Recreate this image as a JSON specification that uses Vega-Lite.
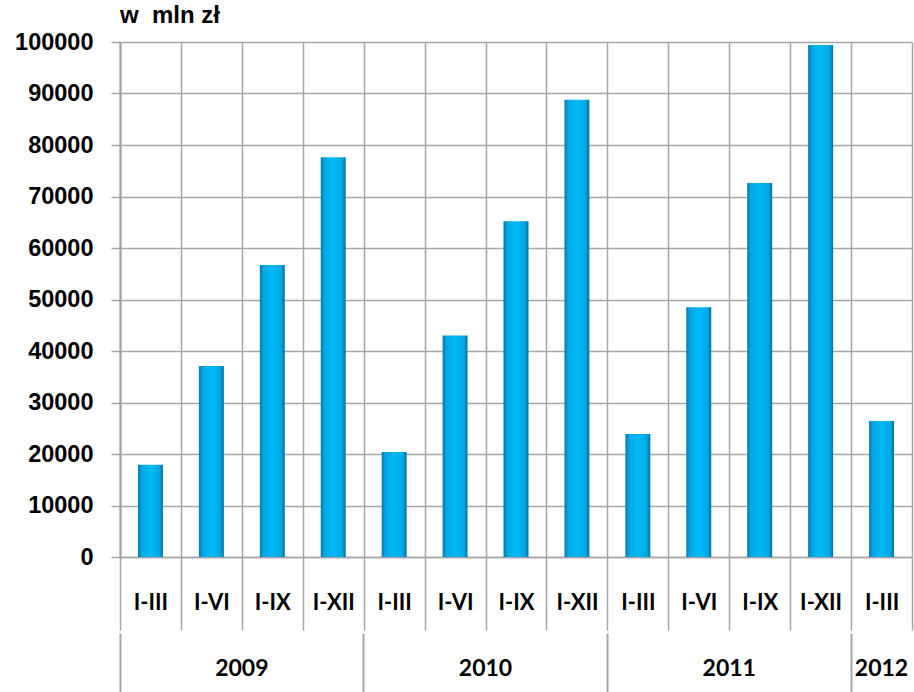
{
  "$schema": "https://vega.github.io/schema/vega-lite/v6.json",
  "autosize": {"type": "none"},
  "padding": {"left": 120, "top": 42, "right": 2, "bottom": 135},
  "width": 792,
  "height": 515,
  "background": "white",
  "config": {"view": {"stroke": null}},
  "title": {
    "text": "w\u00a0 mln zł",
    "anchor": "start",
    "frame": "group",
    "font": "Liberation Sans",
    "fontSize": 24,
    "fontWeight": "bold",
    "color": "#000000",
    "baseline": "alphabetic",
    "offset": 14,
    "dy": 31
  },
  "data": {
    "values": [
      {"id": "2009 I-III", "year": "2009", "quarter": "I-III", "value": 17900},
      {"id": "2009 I-VI", "year": "2009", "quarter": "I-VI", "value": 37100},
      {"id": "2009 I-IX", "year": "2009", "quarter": "I-IX", "value": 56700},
      {"id": "2009 I-XII", "year": "2009", "quarter": "I-XII", "value": 77600},
      {"id": "2010 I-III", "year": "2010", "quarter": "I-III", "value": 20400},
      {"id": "2010 I-VI", "year": "2010", "quarter": "I-VI", "value": 43000},
      {"id": "2010 I-IX", "year": "2010", "quarter": "I-IX", "value": 65200},
      {"id": "2010 I-XII", "year": "2010", "quarter": "I-XII", "value": 88800},
      {"id": "2011 I-III", "year": "2011", "quarter": "I-III", "value": 23900},
      {"id": "2011 I-VI", "year": "2011", "quarter": "I-VI", "value": 48500},
      {"id": "2011 I-IX", "year": "2011", "quarter": "I-IX", "value": 72600},
      {"id": "2011 I-XII", "year": "2011", "quarter": "I-XII", "value": 99400},
      {"id": "2012 I-III", "year": "2012", "quarter": "I-III", "value": 26400}
    ]
  },
  "encoding": {
    "y": {
      "field": "value",
      "type": "quantitative",
      "scale": {"domain": [0, 100000], "nice": false},
      "axis": {
        "title": null,
        "values": [0, 10000, 20000, 30000, 40000, 50000, 60000, 70000, 80000, 90000, 100000],
        "format": "d",
        "grid": true,
        "gridColor": "#a6a6a6",
        "gridWidth": 1.5,
        "domainColor": "#a0a0a0",
        "domainWidth": 2,
        "tickColor": "#a6a6a6",
        "tickWidth": 1.5,
        "tickSize": 9,
        "labelPadding": 18,
        "labelFont": "Liberation Sans",
        "labelFontSize": 23.5,
        "labelFontWeight": "bold",
        "labelColor": "#000000"
      }
    }
  },
  "layer": [
    {
      "mark": {
        "type": "bar",
        "width": {"band": 0.41},
        "fill": {
          "gradient": "linear",
          "x1": 0, "x2": 1, "y1": 0, "y2": 0,
          "stops": [
            {"offset": 0, "color": "#0a78a8"},
            {"offset": 0.15, "color": "#00a8e4"},
            {"offset": 0.5, "color": "#00baf4"},
            {"offset": 0.85, "color": "#00a8e4"},
            {"offset": 1, "color": "#086f9c"}
          ]
        }
      },
      "encoding": {
        "x": {
          "field": "id",
          "type": "nominal",
          "sort": null,
          "scale": {"paddingInner": 0, "paddingOuter": 0},
          "axis": {
            "title": null,
            "labelExpr": "split(datum.value, ' ')[1]",
            "labelAngle": 0,
            "tickBand": "extent",
            "grid": true,
            "gridColor": "#a6a6a6",
            "gridWidth": 1.5,
            "domainColor": "#a6a6a6",
            "domainWidth": 1.5,
            "tickColor": "#a6a6a6",
            "tickWidth": 1.5,
            "tickSize": 73,
            "labelPadding": -38,
            "labelFont": "Lato",
            "labelFontSize": 22,
            "labelFontWeight": "bold",
            "labelColor": "#000000",
            "labelOverlap": false,
            "labelBound": false
          }
        }
      }
    },
    {
      "mark": {"type": "bar", "opacity": 0},
      "encoding": {
        "x": {
          "field": "id",
          "type": "nominal",
          "sort": null,
          "scale": {"paddingInner": 0, "paddingOuter": 0},
          "axis": {
            "orient": "bottom",
            "offset": 76,
            "title": null,
            "domain": false,
            "grid": false,
            "bandPosition": 0,
            "labelAngle": 0,
            "labelExpr": "datum.value == '2009 I-VI' ? '2009' : datum.value == '2010 I-VI' ? '2010' : datum.value == '2011 I-VI' ? '2011' : datum.value == '2012 I-III' ? '2012' : ''",
            "labelOffset": {"condition": {"test": "datum.value == '2012 I-III'", "value": 0}, "value": 30.46},
            "tickOpacity": {"condition": {"test": "indexof(['2009 I-III','2010 I-III','2011 I-III','2012 I-III'], datum.value) >= 0", "value": 1}, "value": 0},
            "tickColor": "#a6a6a6",
            "tickWidth": 2,
            "tickSize": 62,
            "labelPadding": -38,
            "labelFont": "Lato",
            "labelFontSize": 23,
            "labelFontWeight": "bold",
            "labelColor": "#000000",
            "labelOverlap": false,
            "labelBound": false
          }
        }
      }
    }
  ],
  "resolve": {"scale": {"x": "independent"}}
}
